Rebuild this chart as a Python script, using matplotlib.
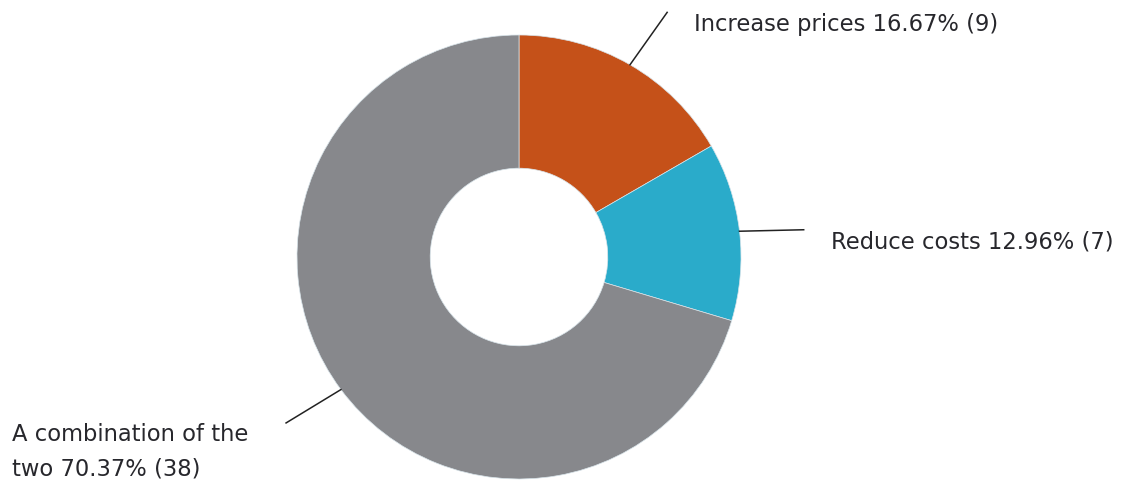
import numpy as np
import matplotlib
matplotlib.use('Agg')
import matplotlib.pyplot as plt

# survey answers, clockwise from the top
labels = ['Increase prices', 'Reduce costs', 'A combination of the\ntwo']
percents = [16.67, 12.96, 70.37]
counts = [9, 7, 38]
colors = ['#C55119', '#2AABCA', '#87888C']

W, H = 1124, 482
fig = plt.figure(figsize=(W / 100, H / 100), dpi=100)
ax = fig.add_axes([0, 0, 1, 1])

cx, cy, R = 519, H - 257, 222
wedges, _ = ax.pie(counts, colors=colors, startangle=90, counterclock=False,
                   radius=R, center=(cx, cy), frame=True,
                   wedgeprops=dict(width=R * 0.6, edgecolor='#d8e4ea', linewidth=0.5))
ax.set_xlim(0, W)
ax.set_ylim(0, H)
ax.set_aspect('equal')
ax.axis('off')

txt = dict(fontsize=16.3, family='DejaVu Sans', color='#27272c')
for w, lab, p, n in zip(wedges, labels, percents, counts):
    mid = (w.theta1 + w.theta2) / 2
    a0 = np.deg2rad(mid)
    a1 = np.deg2rad(mid - 1.2)
    x0, y0 = cx + R * np.cos(a0), cy + R * np.sin(a0)
    x1, y1 = cx + 286 * np.cos(a1), cy + 286 * np.sin(a1)
    ax.plot([x0, x1], [y0, y1], color='#222222', lw=1.1)
    s = f'{lab} {p:.2f}% ({n})'
    if np.cos(a0) >= 0:
        ax.text(x1 + 27, y1 - 12, s, ha='left', va='center', **txt)
    else:
        ax.text(12, y1 - 29, s, ha='left', va='center', linespacing=1.62, **txt)

fig.savefig('out.png', dpi=100)
